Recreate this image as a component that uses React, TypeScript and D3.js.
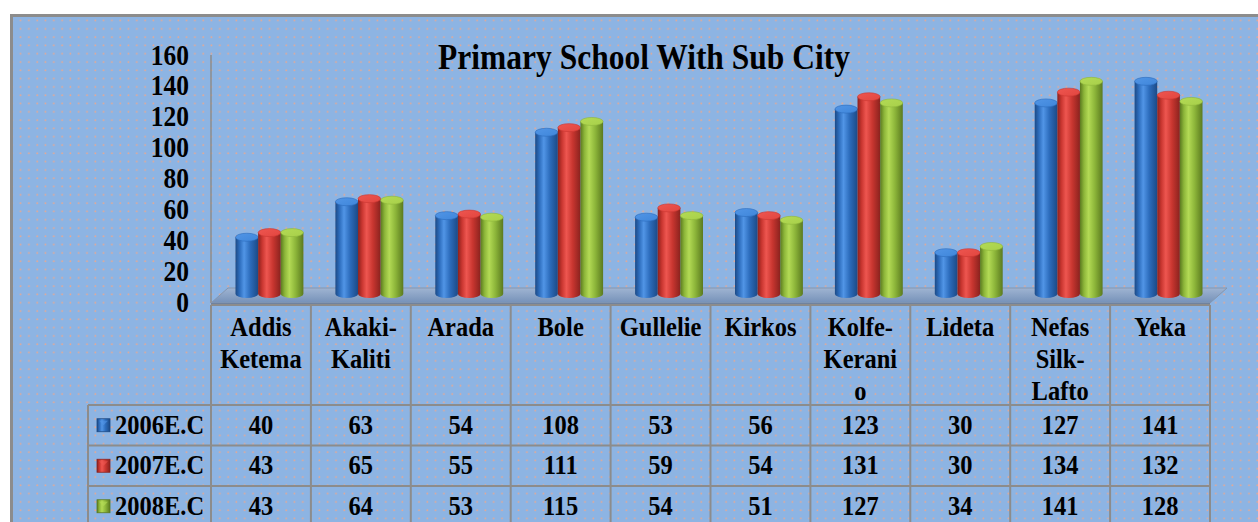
import * as d3 from "d3";
import { useEffect } from "react";

const subCities = [
	["Addis", "Ketema"],
	["Akaki-", "Kaliti"],
	["Arada"],
	["Bole"],
	["Gullelie"],
	["Kirkos"],
	["Kolfe-", "Kerani", "o"],
	["Lideta"],
	["Nefas", "Silk-", "Lafto"],
	["Yeka"],
];
const seriesNames = ["2006E.C", "2007E.C", "2008E.C"];
const values2006 = [40, 63, 54, 108, 53, 56, 123, 30, 127, 141];
const values2007 = [43, 65, 55, 111, 59, 54, 131, 30, 134, 132];
const values2008 = [43, 64, 53, 115, 54, 51, 127, 34, 141, 128];
const yTicks = [0, 20, 40, 60, 80, 100, 120, 140, 160];

const seriesValues = [values2006, values2007, values2008];
const palette = [
	{ dark: "#1c4a86", base: "#2c6cbc", light: "#5195e6", top: "#3f86da" },
	{ dark: "#8a221e", base: "#c93630", light: "#ee5650", top: "#e2453f" },
	{ dark: "#5b7a1f", base: "#8db63a", light: "#b3da55", top: "#a8d04a" },
];

const FONT = "'Liberation Serif', 'Times New Roman', serif";
const STRETCH = 1.15;
const GRID = "#8c8c8c";

function T({ x, y, size, anchor = "middle", children }: any) {
	return (
		<text
			transform={`translate(${x},${y}) scale(1,${STRETCH})`}
			fontFamily={FONT}
			fontWeight="bold"
			fontSize={size}
			textAnchor={anchor}
			fill="#000"
		>
			{children}
		</text>
	);
}

export default function App() {
	useEffect(() => {
		document.body.style.margin = "0";
	}, []);

	const width = 1258;
	const height = 522;

	const left = 211;
	const right = 1210;
	const depth = { dx: 17, dy: -15 };

	const x = d3
		.scaleBand<number>()
		.domain(d3.range(subCities.length))
		.range([left, right]);
	const xs = d3
		.scaleBand<number>()
		.domain(d3.range(seriesNames.length))
		.range([16, x.bandwidth() - 16]);
	const y = d3.scaleLinear().domain([0, 160]).range([302, 55]);

	const floorY = y(0) + 1;
	const baseY = y(0) - 8;
	const ry = 4;

	const headerTop = 305;
	const headerBottom = 405;
	const rowH = 40.5;
	const legendLeft = 88;

	const floor = [
		[left, floorY],
		[right, floorY],
		[right + depth.dx, floorY + depth.dy],
		[left + depth.dx, floorY + depth.dy],
	];

	return (
		<svg width={width} height={height} style={{ display: "block" }}>
			<defs>
				<pattern id="dots" width="8.3" height="8.3" patternUnits="userSpaceOnUse">
					<rect width="8.3" height="8.3" fill="#8db4e3" />
					<circle cx="4" cy="4" r="0.9" fill="#f2a789" opacity="0.9" />
				</pattern>
				{palette.map((p, i) => (
					<linearGradient key={i} id={`cyl${i}`} x1="0" x2="1" y1="0" y2="0">
						<stop offset="0%" stopColor={p.dark} />
						<stop offset="18%" stopColor={p.base} />
						<stop offset="38%" stopColor={p.light} />
						<stop offset="65%" stopColor={p.base} />
						<stop offset="100%" stopColor={p.dark} />
					</linearGradient>
				))}
				{palette.map((p, i) => (
					<linearGradient key={i} id={`top${i}`} x1="0" x2="1" y1="0" y2="1">
						<stop offset="0%" stopColor={p.light} />
						<stop offset="100%" stopColor={p.top} />
					</linearGradient>
				))}
				<linearGradient id="floorFill" x1="0" x2="0" y1="0" y2="1">
					<stop offset="0%" stopColor="#9fb4d2" />
					<stop offset="100%" stopColor="#7591b8" />
				</linearGradient>
			</defs>

			<rect x={0} y={0} width={width} height={height} fill="#fff" />
			<rect
				x={11.5}
				y={15.5}
				width={width + 20}
				height={height + 20}
				fill="url(#dots)"
				stroke={GRID}
				strokeWidth={3}
			/>

			<T x={644} y={69} size={31.5}>
				Primary School With Sub City
			</T>

			{/* y axis */}
			{yTicks.map((t) => (
				<T key={t} x={189} y={y(t) + 9.5} size={25.5} anchor="end">
					{t}
				</T>
			))}
			<line x1={left} x2={left} y1={y(160)} y2={floorY} stroke={GRID} strokeWidth={1.5} />

			{/* floor */}
			<polygon
				points={floor.map((p) => p.join(",")).join(" ")}
				fill="url(#floorFill)"
				stroke="#8696ad"
				strokeWidth={1}
			/>
			<rect x={left} y={floorY} width={right - left} height={2} fill="#6f829e" />

			{/* cylinders */}
			{subCities.map((_, ci) =>
				seriesNames.map((_, si) => {
					const v = seriesValues[si][ci];
					const bx = (x(ci) ?? 0) + (xs(si) ?? 0) + depth.dx / 2;
					const w = xs.bandwidth();
					const topY = y(v) - 3;
					const path = `M ${bx},${topY} L ${bx},${baseY} A ${w / 2},${ry} 0 0 0 ${bx + w},${baseY} L ${bx + w},${topY} Z`;
					return (
						<g key={`${ci}-${si}`}>
							<path d={path} fill={`url(#cyl${si})`} />
							<ellipse
								cx={bx + w / 2}
								cy={topY}
								rx={w / 2}
								ry={ry}
								fill={`url(#top${si})`}
								stroke={palette[si].base}
								strokeWidth={0.6}
							/>
						</g>
					);
				}),
			)}

			{/* data table */}
			<g stroke={GRID} strokeWidth={2}>
				<line x1={left} x2={right} y1={headerTop} y2={headerTop} />
				{d3.range(subCities.length + 1).map((i) => {
					const lx = i < subCities.length ? (x(i) ?? 0) : right;
					return <line key={i} x1={lx} x2={lx} y1={headerTop} y2={height + 10} />;
				})}
				{seriesNames.map((_, i) => {
					const ly = headerBottom + i * rowH;
					return <line key={i} x1={legendLeft} x2={right} y1={ly} y2={ly} />;
				})}
				<line x1={legendLeft} x2={legendLeft} y1={headerBottom} y2={height + 10} />
			</g>

			{subCities.map((lines, ci) => (
				<g key={ci}>
					{lines.map((ln, li) => (
						<T key={li} x={(x(ci) ?? 0) + x.bandwidth() / 2} y={336 + li * 32} size={24.5}>
							{ln}
						</T>
					))}
				</g>
			))}

			{seriesNames.map((name, si) => {
				const cy = headerBottom + si * rowH + rowH / 2;
				return (
					<g key={name}>
						<rect
							x={97}
							y={cy - 6.5}
							width={13}
							height={13}
							fill={`url(#cyl${si})`}
							stroke={palette[si].dark}
							strokeWidth={0.8}
						/>
						<polygon
							points={`${99},${cy - 4.5} ${108},${cy - 4.5} ${103.5},${cy}`}
							fill={palette[si].light}
							opacity={0.6}
						/>
						<T x={115} y={cy + 8.5} size={24.5} anchor="start">
							{name}
						</T>
						{seriesValues[si].map((v, ci) => (
							<T key={ci} x={(x(ci) ?? 0) + x.bandwidth() / 2} y={cy + 8.5} size={24.5}>
								{v}
							</T>
						))}
					</g>
				);
			})}
		</svg>
	);
}
